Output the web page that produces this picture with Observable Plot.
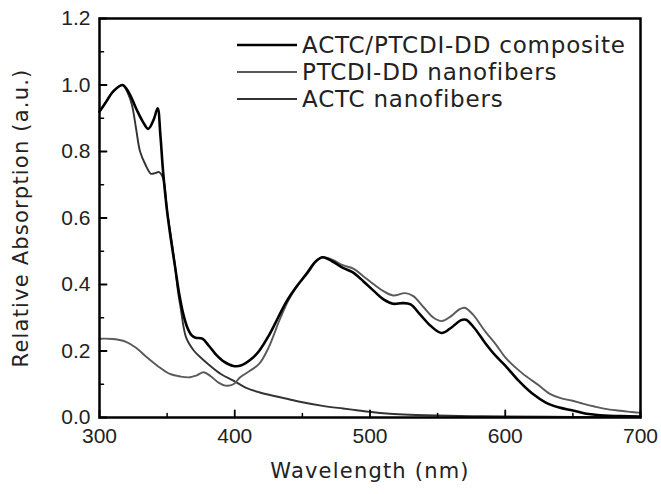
<!DOCTYPE html>
<html>
<head>
<meta charset="utf-8">
<script src="https://cdn.jsdelivr.net/npm/d3@7"></script>
<script src="https://cdn.jsdelivr.net/npm/@observablehq/plot@0.6"></script>
<style>
  html, body { margin: 0; padding: 0; background: #fff; }
  #wrap { position: relative; width: 661px; height: 494px; }
  #wrap svg { position: absolute; left: 0; top: 0; }
  g[aria-label="text"] text { letter-spacing: 1.2px; }
</style>
</head>
<body>
<div id="wrap"></div>
<script>
// ---- data ----
const seriesNames = ["ACTC/PTCDI-DD composite", "PTCDI-DD nanofibers", "ACTC nanofibers"];

const wlComposite = [300,305,310,317,322,327,332,336,340,343,345,347,350,353,356,359,362,365,368,371,376,381,386,392,399,405,412,418,425,432,438,445,453,460,465,472,480,487,495,503,510,517,524,530,537,545,553,560,567,571,577,585,593,600,610,620,630,640,650,660,670,685,700];
const absComposite = [0.92,0.95,0.98,1.0,0.975,0.93,0.89,0.868,0.895,0.93,0.85,0.74,0.62,0.53,0.45,0.37,0.31,0.27,0.248,0.24,0.237,0.215,0.19,0.168,0.155,0.157,0.175,0.20,0.245,0.30,0.347,0.39,0.432,0.47,0.482,0.47,0.45,0.437,0.41,0.38,0.355,0.342,0.344,0.34,0.31,0.275,0.254,0.27,0.292,0.294,0.27,0.225,0.185,0.156,0.11,0.072,0.045,0.03,0.021,0.011,0.007,0.004,0.003];

const wlPtcdi = [300,310,320,327,335,343,352,360,367,372,377,382,388,393,399,404,411,418,425,433,440,447,455,460,465,472,480,488,495,503,510,517,526,532,540,547,553,560,566,570,576,585,593,600,612,625,633,641,649,658,666,674,683,692,700];
const absPtcdi = [0.237,0.236,0.227,0.21,0.181,0.155,0.131,0.123,0.121,0.127,0.136,0.125,0.105,0.096,0.10,0.121,0.14,0.161,0.21,0.292,0.355,0.40,0.44,0.47,0.482,0.475,0.458,0.447,0.425,0.40,0.38,0.367,0.374,0.365,0.33,0.30,0.29,0.305,0.325,0.33,0.31,0.26,0.22,0.181,0.135,0.096,0.071,0.058,0.051,0.041,0.033,0.026,0.021,0.017,0.014];

const wlActc = [300,305,310,317,321,324,327,330,334,338,341,344,347,350,353,356,358,360,364,370,376,382,390,399,408,418,430,440,450,465,480,490,500,512,525,550,575,600,650,700];
const absActc = [0.92,0.95,0.98,1.0,0.975,0.94,0.87,0.80,0.76,0.733,0.735,0.738,0.72,0.62,0.54,0.45,0.38,0.33,0.241,0.20,0.176,0.155,0.13,0.111,0.09,0.076,0.064,0.055,0.046,0.035,0.027,0.022,0.017,0.012,0.009,0.006,0.004,0.003,0.002,0.002];

const xTicks = [300, 400, 500, 600, 700];
const xMinor = [350, 450, 550, 650];
const yTicks = [0.0, 0.2, 0.4, 0.6, 0.8, 1.0, 1.2];
const yMinor = [0.1, 0.3, 0.5, 0.7, 0.9, 1.1];
const xLabel = "Wavelength (nm)";
const yLabel = "Relative Absorption (a.u.)";

// ---- build tables ----
const toRows = (name, xs, ys) => xs.map((w, i) => ({series: name, wl: w, abs: ys[i]}));
const composite = toRows(seriesNames[0], wlComposite, absComposite);
const ptcdi = toRows(seriesNames[1], wlPtcdi, absPtcdi);
const actc = toRows(seriesNames[2], wlActc, absActc);

const styles = [
  {stroke: "#000", width: 2.6},
  {stroke: "#5a5a5a", width: 1.9},
  {stroke: "#333", width: 1.9}
];

const tickShape = {draw(ctx, l) { ctx.moveTo(0, 0); ctx.lineTo(0, -l); }};

const chart = Plot.plot({
  width: 661,
  height: 494,
  marginLeft: 99,
  marginRight: 21,
  marginTop: 18,
  marginBottom: 77,
  style: {fontFamily: "'Liberation Sans', Arial, sans-serif", background: "#fff", color: "#000"},
  x: {domain: [300, 700]},
  y: {domain: [0, 1.2]},
  marks: [
    Plot.line(actc, {x: "wl", y: "abs", stroke: styles[2].stroke, strokeWidth: styles[2].width, curve: "catmull-rom"}),
    Plot.line(ptcdi, {x: "wl", y: "abs", stroke: styles[1].stroke, strokeWidth: styles[1].width, curve: "catmull-rom"}),
    Plot.line(composite, {x: "wl", y: "abs", stroke: styles[0].stroke, strokeWidth: styles[0].width, curve: "catmull-rom"}),
    // inward ticks
    Plot.vector(yTicks, {y: d => d, frameAnchor: "left", rotate: 90, length: 7, anchor: "start", shape: tickShape, stroke: "#000", strokeWidth: 1.8}),
    Plot.vector(yMinor, {y: d => d, frameAnchor: "left", rotate: 90, length: 4, anchor: "start", shape: tickShape, stroke: "#000", strokeWidth: 1.5}),
    Plot.vector(xTicks, {x: d => d, frameAnchor: "bottom", rotate: 0, length: 7, anchor: "start", shape: tickShape, stroke: "#000", strokeWidth: 1.8}),
    Plot.vector(xMinor, {x: d => d, frameAnchor: "bottom", rotate: 0, length: 4, anchor: "start", shape: tickShape, stroke: "#000", strokeWidth: 1.5}),
    Plot.frame({stroke: "#000", strokeWidth: 2.5}),
    Plot.axisX({ticks: xTicks, tickSize: 0, tickPadding: 11, fontSize: 21, tickFormat: d => String(d), label: null, fill: "#222"}),
    Plot.axisY({ticks: yTicks, tickSize: 0, tickPadding: 9, fontSize: 21, tickFormat: d3.format(".1f"), label: null, fill: "#222"}),
    Plot.text([xLabel], {text: d => d, frameAnchor: "bottom", dy: 60, fontSize: 21, fontFamily: "'DejaVu Sans', sans-serif", fill: "#222"}),
    Plot.text([yLabel], {text: d => d, frameAnchor: "left", textAnchor: "middle", lineAnchor: "middle", dx: -78, rotate: -90, fontSize: 21, fontFamily: "'DejaVu Sans', sans-serif", fill: "#222"})
  ]
});

const wrap = document.getElementById("wrap");
wrap.appendChild(chart);

// legend overlay inside the plot area
const leg = d3.select(wrap).append("svg")
  .attr("width", 661).attr("height", 494)
  .style("pointer-events", "none");
seriesNames.forEach((name, i) => {
  const y = 45 + i * 27;
  leg.append("line").attr("x1", 237).attr("x2", 297).attr("y1", y).attr("y2", y)
    .attr("stroke", styles[i].stroke).attr("stroke-width", styles[i].width);
  leg.append("text").attr("x", 302).attr("y", y).attr("dy", "0.36em")
    .attr("font-family", "'DejaVu Sans', sans-serif").attr("font-size", 23)
    .attr("letter-spacing", "0.8px").attr("fill", "#222").text(name);
});
</script>
</body>
</html>
